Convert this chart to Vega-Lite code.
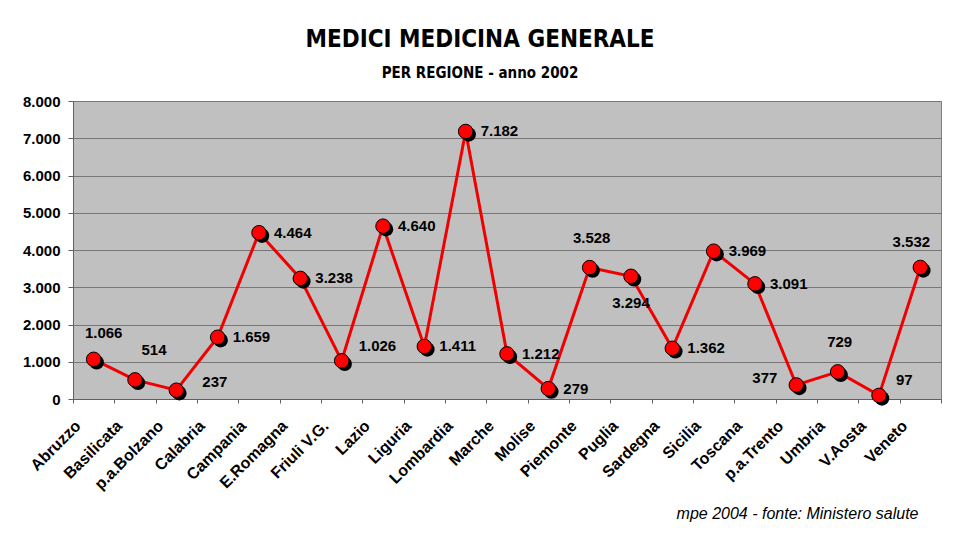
{
  "$schema": "https://vega.github.io/schema/vega-lite/v6.json",
  "width": 868,
  "height": 298,
  "autosize": {"type": "none"},
  "padding": {"left": 73, "top": 101, "right": 19, "bottom": 151},
  "background": "white",
  "title": {
    "text": "MEDICI MEDICINA GENERALE",
    "subtitle": "PER REGIONE - anno 2002",
    "anchor": "middle",
    "dx": -27,
    "offset": 13,
    "font": "Liberation Sans Narrow, DejaVu Sans Condensed, Liberation Sans",
    "fontSize": 24,
    "fontWeight": "bold",
    "color": "black",
    "subtitleFont": "Liberation Sans Narrow, DejaVu Sans Condensed, Liberation Sans",
    "subtitleFontSize": 15,
    "subtitleFontWeight": "bold",
    "subtitleColor": "black",
    "subtitlePadding": 14
  },
  "data": {
    "values": [
      {"regione": "Abruzzo", "medici": 1066},
      {"regione": "Basilicata", "medici": 514},
      {"regione": "p.a.Bolzano", "medici": 237},
      {"regione": "Calabria", "medici": 1659},
      {"regione": "Campania", "medici": 4464},
      {"regione": "E.Romagna", "medici": 3238},
      {"regione": "Friuli V.G.", "medici": 1026},
      {"regione": "Lazio", "medici": 4640},
      {"regione": "Liguria", "medici": 1411},
      {"regione": "Lombardia", "medici": 7182},
      {"regione": "Marche", "medici": 1212},
      {"regione": "Molise", "medici": 279},
      {"regione": "Piemonte", "medici": 3528},
      {"regione": "Puglia", "medici": 3294},
      {"regione": "Sardegna", "medici": 1362},
      {"regione": "Sicilia", "medici": 3969},
      {"regione": "Toscana", "medici": 3091},
      {"regione": "p.a.Trento", "medici": 377},
      {"regione": "Umbria", "medici": 729},
      {"regione": "V.Aosta", "medici": 97},
      {"regione": "Veneto", "medici": 3532}
    ]
  },
  "encoding": {
    "x": {
      "field": "regione",
      "type": "nominal",
      "sort": null,
      "scale": {"type": "band", "paddingInner": 0, "paddingOuter": 0},
      "axis": {
        "tickBand": "extent",
        "labelAngle": -45,
        "labelAlign": "right",
        "labelBaseline": "middle",
        "labelOffset": -16,
        "labelPadding": 20,
        "labelFont": "Liberation Sans",
        "labelFontSize": 16,
        "labelFontWeight": "bold",
        "labelColor": "black",
        "tickSize": 4,
        "tickColor": "#606060",
        "domainColor": "#606060",
        "grid": false,
        "title": "mpe 2004 - fonte: Ministero salute",
        "titleFont": "Liberation Sans",
        "titleFontSize": 16,
        "titleFontStyle": "italic",
        "titleFontWeight": "normal",
        "titleColor": "black",
        "titleAlign": "right",
        "titleBaseline": "alphabetic",
        "titleX": 845,
        "titleY": 119
      }
    },
    "y": {
      "field": "medici",
      "type": "quantitative",
      "scale": {"domain": [0, 8000], "nice": false},
      "axis": {
        "values": [0, 1000, 2000, 3000, 4000, 5000, 6000, 7000, 8000],
        "format": ",d",
        "labelFont": "Liberation Sans",
        "labelFontSize": 15,
        "labelFontWeight": "bold",
        "labelColor": "black",
        "labelPadding": 8,
        "tickSize": 5,
        "tickColor": "#606060",
        "domainColor": "#606060",
        "gridColor": "#777777",
        "gridWidth": 1,
        "title": null
      }
    }
  },
  "layer": [
    {"mark": {"type": "line", "color": "#F00000", "strokeWidth": 3}},
    {"mark": {"type": "point", "filled": true, "shape": "circle", "size": 210, "color": "black", "opacity": 1, "xOffset": 3, "yOffset": 3}},
    {"mark": {"type": "point", "filled": true, "shape": "circle", "size": 210, "fill": "#FF0000", "stroke": "black", "strokeWidth": 1, "opacity": 1}},
    {
      "transform": [{"filter": {"field": "regione", "oneOf": ["Calabria", "Campania", "E.Romagna", "Lazio", "Liguria", "Lombardia", "Marche", "Molise", "Sardegna", "Sicilia", "Toscana"]}}],
      "mark": {"type": "text", "align": "left", "baseline": "middle", "dx": 15, "dy": 0, "font": "Liberation Sans", "fontSize": 15, "fontWeight": "bold", "color": "black"},
      "encoding": {"text": {"field": "medici", "type": "quantitative", "format": ",d"}}
    },
    {
      "transform": [{"filter": {"field": "regione", "oneOf": ["Friuli V.G.", "V.Aosta"]}}],
      "mark": {"type": "text", "align": "left", "baseline": "middle", "dx": 17, "dy": -15, "font": "Liberation Sans", "fontSize": 15, "fontWeight": "bold", "color": "black"},
      "encoding": {"text": {"field": "medici", "type": "quantitative", "format": ",d"}}
    },
    {
      "transform": [{"filter": {"field": "regione", "equal": "p.a.Bolzano"}}],
      "mark": {"type": "text", "align": "left", "baseline": "middle", "dx": 26, "dy": -8, "font": "Liberation Sans", "fontSize": 15, "fontWeight": "bold", "color": "black"},
      "encoding": {"text": {"field": "medici", "type": "quantitative", "format": ",d"}}
    },
    {
      "transform": [{"filter": {"field": "regione", "equal": "p.a.Trento"}}],
      "mark": {"type": "text", "align": "right", "baseline": "middle", "dx": -19, "dy": -7, "font": "Liberation Sans", "fontSize": 15, "fontWeight": "bold", "color": "black"},
      "encoding": {"text": {"field": "medici", "type": "quantitative", "format": ",d"}}
    },
    {
      "transform": [{"filter": {"field": "regione", "equal": "Abruzzo"}}],
      "mark": {"type": "text", "align": "center", "baseline": "middle", "dx": 10, "dy": -26, "font": "Liberation Sans", "fontSize": 15, "fontWeight": "bold", "color": "black"},
      "encoding": {"text": {"field": "medici", "type": "quantitative", "format": ",d"}}
    },
    {
      "transform": [{"filter": {"field": "regione", "equal": "Basilicata"}}],
      "mark": {"type": "text", "align": "center", "baseline": "middle", "dx": 19, "dy": -30, "font": "Liberation Sans", "fontSize": 15, "fontWeight": "bold", "color": "black"},
      "encoding": {"text": {"field": "medici", "type": "quantitative", "format": ",d"}}
    },
    {
      "transform": [{"filter": {"field": "regione", "oneOf": ["Piemonte", "Umbria"]}}],
      "mark": {"type": "text", "align": "center", "baseline": "middle", "dx": 2, "dy": -30, "font": "Liberation Sans", "fontSize": 15, "fontWeight": "bold", "color": "black"},
      "encoding": {"text": {"field": "medici", "type": "quantitative", "format": ",d"}}
    },
    {
      "transform": [{"filter": {"field": "regione", "equal": "Puglia"}}],
      "mark": {"type": "text", "align": "center", "baseline": "middle", "dx": 0, "dy": 27, "font": "Liberation Sans", "fontSize": 15, "fontWeight": "bold", "color": "black"},
      "encoding": {"text": {"field": "medici", "type": "quantitative", "format": ",d"}}
    },
    {
      "transform": [{"filter": {"field": "regione", "equal": "Veneto"}}],
      "mark": {"type": "text", "align": "center", "baseline": "middle", "dx": -9, "dy": -25, "font": "Liberation Sans", "fontSize": 15, "fontWeight": "bold", "color": "black"},
      "encoding": {"text": {"field": "medici", "type": "quantitative", "format": ",d"}}
    }
  ],
  "config": {
    "locale": {
      "number": {"decimal": ",", "thousands": ".", "grouping": [3], "currency": ["", " €"]}
    },
    "view": {"fill": "#C0C0C0", "stroke": "#808080", "strokeWidth": 1}
  }
}
